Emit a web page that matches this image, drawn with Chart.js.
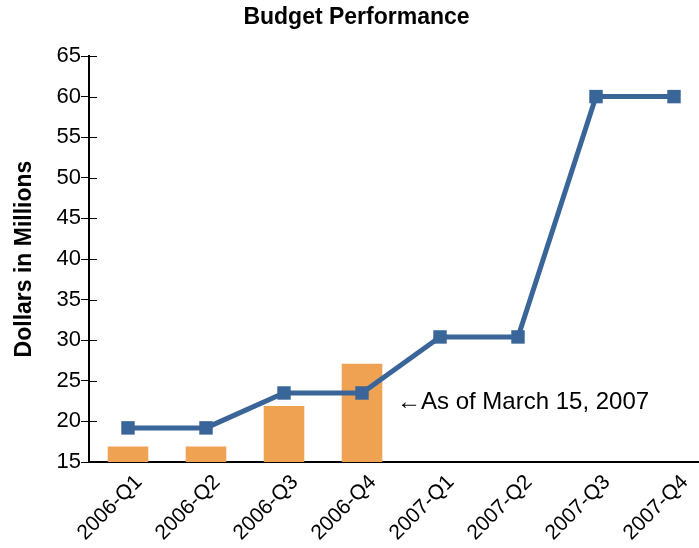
<!DOCTYPE html>
<html>
<head>
<meta charset="utf-8">
<script src="https://cdn.jsdelivr.net/npm/chart.js@4.4.1/dist/chart.umd.min.js"></script>
<style>
  html, body { margin: 0; padding: 0; background: #fff; }
  #wrap { width: 699px; height: 548px; overflow: hidden; position: relative; }
  #c { display: block; }
</style>
</head>
<body>
<div id="wrap"><canvas id="c" width="716" height="548"></canvas></div>
<script>
const categories = ['2006-Q1','2006-Q2','2006-Q3','2006-Q4','2007-Q1','2007-Q2','2007-Q3','2007-Q4'];
const actualSpend = [16.9, 16.9, 21.9, 27.1, null, null, null, null];
const budgetLine = [19.2, 19.2, 23.5, 23.5, 30.4, 30.4, 60.0, 60.0];
const yTicks = [15, 20, 25, 30, 35, 40, 45, 50, 55, 60, 65];
const chartTitle = 'Budget Performance';
const yTitle = 'Dollars in Millions';
const noteText = '\u2190As of March 15, 2007';
const notePosition = [3.5, 22.3]; // category index, value

const FONT = "'Liberation Sans', Arial, Helvetica, sans-serif";
Chart.defaults.font.family = FONT;
Chart.defaults.color = '#000';

const innerTicks = {
  id: 'innerTicks',
  afterDraw(chart) {
    const y = chart.scales.y, ctx = chart.ctx, left = chart.chartArea.left;
    ctx.save();
    ctx.strokeStyle = '#000';
    ctx.lineWidth = 1;
    yTicks.forEach(v => {
      const py = Math.round(y.getPixelForValue(v)) + 0.5;
      ctx.beginPath();
      ctx.moveTo(left, py);
      ctx.lineTo(left + 8, py);
      ctx.stroke();
    });
    ctx.restore();
  }
};

const note = {
  id: 'note',
  afterDatasetsDraw(chart) {
    const ctx = chart.ctx;
    const px = chart.scales.x.getPixelForValue(notePosition[0]);
    const py = chart.scales.y.getPixelForValue(notePosition[1]);
    ctx.save();
    ctx.font = '24px ' + FONT;
    ctx.fillStyle = '#000';
    ctx.textAlign = 'left';
    ctx.textBaseline = 'middle';
    ctx.fillText(noteText, px - 4, py);
    ctx.restore();
  }
};

new Chart(document.getElementById('c'), {
  data: {
    labels: categories,
    datasets: [
      {
        type: 'line',
        data: budgetLine,
        order: 0,
        borderColor: '#3A6599',
        backgroundColor: '#3A6599',
        borderWidth: 5,
        pointStyle: 'rect',
        pointRadius: 9.5,
        pointBorderWidth: 0,
        pointBackgroundColor: '#3A6599',
        tension: 0,
        clip: false
      },
      {
        type: 'bar',
        data: actualSpend,
        order: 1,
        backgroundColor: '#EEA252',
        borderWidth: 0,
        categoryPercentage: 1,
        barPercentage: 0.52
      }
    ]
  },
  options: {
    responsive: false,
    animation: false,
    layout: { autoPadding: false, padding: { left: 0, right: 3, top: 0, bottom: 0 } },
    plugins: {
      legend: { display: false },
      tooltip: { enabled: false },
      title: {
        display: true,
        text: chartTitle,
        font: { size: 23, weight: 'bold', family: FONT },
        color: '#000',
        padding: { top: 4, bottom: 24.4 }
      }
    },
    scales: {
      x: {
        type: 'category',
        offset: true,
        grid: { display: false, drawTicks: false },
        border: { display: true, color: '#000', width: 2 },
        ticks: { minRotation: 45, maxRotation: 45, font: { size: 21 }, color: '#000', padding: 8, labelOffset: 11 },
        afterFit(s) { s.height = 86; s.paddingLeft = 0; s.paddingRight = 0; }
      },
      y: {
        min: 15,
        max: 65,
        afterBuildTicks(s) { s.ticks = yTicks.map(v => ({ value: v })); },
        grid: { drawOnChartArea: false, tickLength: 8, color: '#000' },
        border: { display: true, color: '#000', width: 2 },
        ticks: { font: { size: 22 }, color: '#000', padding: 0 },
        title: { display: true, text: yTitle, font: { size: 23, weight: 'bold' }, color: '#000', padding: { top: 11, bottom: 0 } },
        afterFit(s) { s.width = 89; s.paddingTop = 0; s.paddingBottom = 0; }
      }
    }
  },
  plugins: [innerTicks, note]
});
</script>
</body>
</html>
